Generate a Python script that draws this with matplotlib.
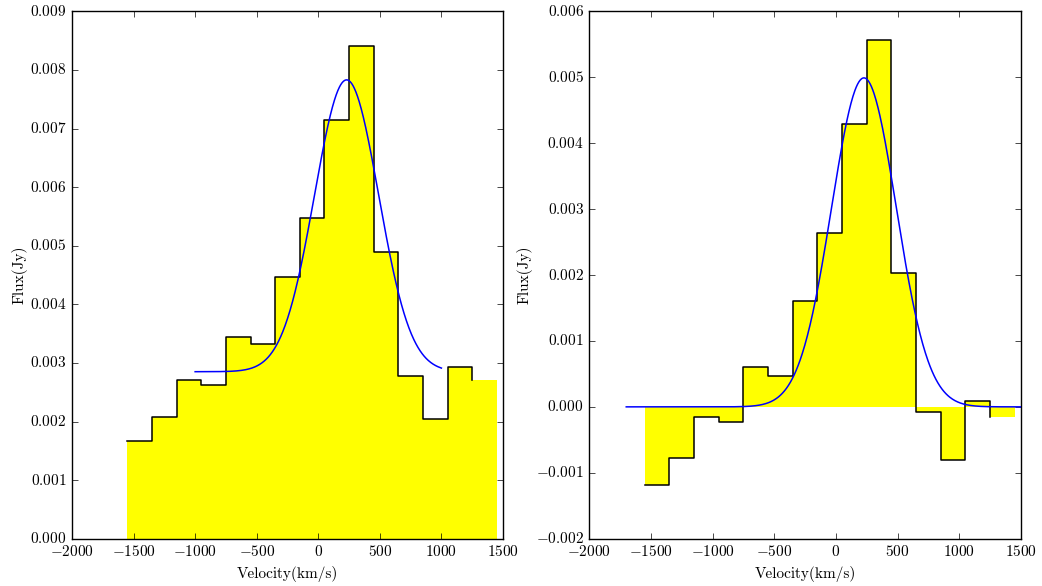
import numpy as np
import matplotlib
matplotlib.use("Agg")
import matplotlib.pyplot as plt
from matplotlib.ticker import FuncFormatter, MultipleLocator

# Velocity channels: left edges of 200 km/s bins
bin_left = [-1550, -1350, -1150, -950, -750, -550, -350, -150,
            50, 250, 450, 650, 850, 1050, 1250]
bin_width = 200

# Spectrum with continuum (left) and continuum-subtracted (right)
flux_total = [0.00166, 0.00208, 0.00270, 0.00262, 0.00344, 0.00332, 0.00447,
              0.00548, 0.00714, 0.00841, 0.00489, 0.00278, 0.00204, 0.00293,
              0.00271]
flux_line = [-0.00119, -0.00077, -0.00015, -0.00023, 0.00060, 0.00047,
             0.00161, 0.00263, 0.00429, 0.00556, 0.00203, -0.00008,
             -0.00081, 0.00009, -0.00016]

# Gaussian fit parameters: (amplitude, centre, sigma, continuum, v_min, v_max)
fit_total = (0.00498, 230.0, 260.0, 0.00285, -1000.0, 1000.0)
fit_line = (0.00499, 227.0, 262.0, 0.0, -1700.0, 1500.0)

plt.style.use("classic")
plt.rcParams.update({
    "font.family": "serif",
    "font.serif": ["cmr10"],
    "mathtext.fontset": "cm",
    "axes.formatter.use_mathtext": True,
    "font.size": 11,
    "figure.facecolor": "white",
    "savefig.facecolor": "white",
})


def gaussian_curve(params):
    amp, mu, sig, cont, vmin, vmax = params
    v = np.linspace(vmin, vmax, 600)
    return v, cont + amp * np.exp(-(v - mu) ** 2 / (2 * sig ** 2))


def draw_panel(ax, flux, fit, ylim, ystep):
    ax.bar(bin_left, flux, width=bin_width, align="edge",
           color="yellow", edgecolor="none", linewidth=0, zorder=1)
    ax.step(bin_left, flux, where="post", color="black", lw=1.1, zorder=2)
    v, f = gaussian_curve(fit)
    ax.plot(v, f, color="blue", lw=1.1, zorder=3)
    ax.set_xlim(-2000, 1500)
    ax.set_ylim(*ylim)
    ax.xaxis.set_major_locator(MultipleLocator(500))
    ax.yaxis.set_major_locator(MultipleLocator(ystep))
    ax.xaxis.set_major_formatter(FuncFormatter(lambda x, p: r"$%d$" % int(round(x))))
    ax.yaxis.set_major_formatter(FuncFormatter(
        lambda y, p: r"$%.3f$" % (0.0 if abs(y) < 1e-12 else y)))
    ax.set_xlabel(r"Velocity(km/s)")
    ax.set_ylabel(r"Flux(Jy)", labelpad=2)
    ax.tick_params(labelsize=11)


fig = plt.figure(figsize=(10.42, 5.86), dpi=100)
ax1 = fig.add_axes([0.0691, 0.0807, 0.4136, 0.9000])
ax2 = fig.add_axes([0.5655, 0.0807, 0.4143, 0.9000])

draw_panel(ax1, flux_total, fit_total, (0.0, 0.009), 0.001)
draw_panel(ax2, flux_line, fit_line, (-0.002, 0.006), 0.001)

fig.savefig("out.png", dpi=100)
